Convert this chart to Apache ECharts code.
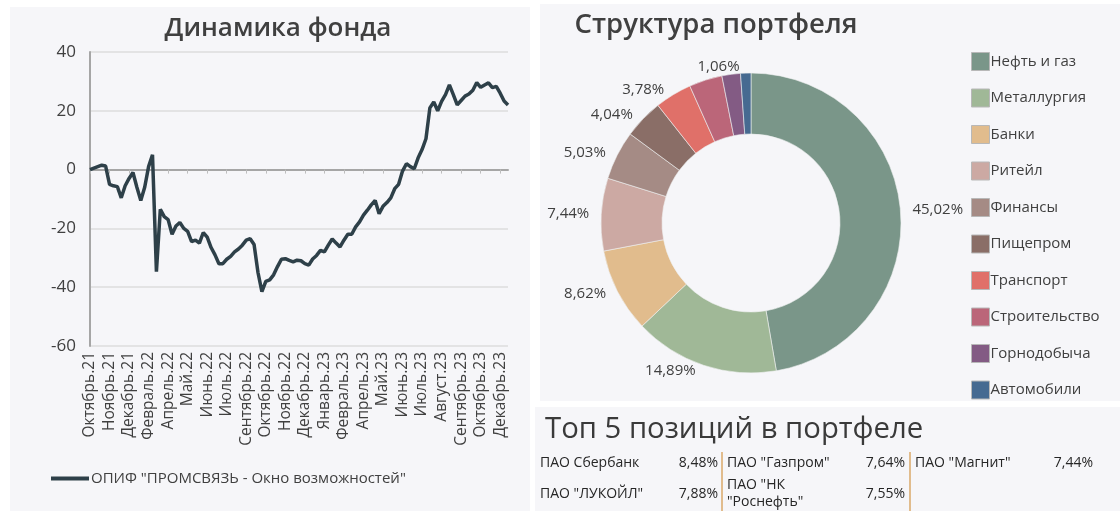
<!DOCTYPE html>
<html><head><meta charset="utf-8">
<script src="https://cdn.jsdelivr.net/npm/echarts@6/dist/echarts.min.js"></script>
<style>html,body{margin:0;padding:0;background:#fff}#c{width:1120px;height:511px}</style>
</head><body><div id="c"></div>
<script>
// ---- line chart data ----
const tickLabels = ['Октябрь.21','Ноябрь.21','Декабрь.21','Февраль.22','Апрель.22','Май.22','Июнь.22','Июль.22','Сентябрь.22','Октябрь.22','Ноябрь.22','Декабрь.22','Январь.23','Февраль.23','Апрель.23','Май.23','Июнь.23','Июль.23','Август.23','Сентябрь.23','Октябрь.23','Декабрь.23'];
const fundName = 'ОПИФ "ПРОМСВЯЗЬ - Окно возможностей"';
const fundValues = [
 0, 0.5, 1, 1.5, 1.2, -5, -5.5, -5.8, -9.6, -5.5,
 -3, -1, -6, -10.5, -6, 1, 5, -34.7, -13.5, -16,
 -17, -22, -19.2, -18, -20, -21, -24.5, -24, -25, -21.4,
 -23, -26.5, -29, -32, -32, -30.5, -29.5, -28, -27, -25.7,
 -24, -23.5, -25.5, -35, -41.5, -38, -37.5, -35.8, -33, -30.5,
 -30.3, -30.9, -31.4, -30.8, -31, -32, -32.5, -30.4, -29.2, -27.5,
 -28, -25.7, -23.6, -25, -26.3, -24, -22, -22, -19.5, -17.8,
 -15.5, -13.8, -12, -10.5, -15, -12.5, -11.2, -9.6, -6.5, -5,
 -0.5, 2, 1, 0.3, 4, 6.8, 10.5, 21, 23, 20,
 23.2, 25.5, 28.8, 25.5, 22, 23.5, 25, 25.7, 27, 29.6,
 28, 28.8, 29.5, 27.9, 28.3, 26, 23.3, 22
];
const labelStep = 5;
const yTicks = [-60, -40, -20, 0, 20, 40];

// ---- pie data ----
const sectors = ['Нефть и газ','Металлургия','Банки','Ритейл','Финансы','Пищепром','Транспорт','Строительство','Горнодобыча','Автомобили'];
const sectorValues = [45.02, 14.89, 8.62, 7.44, 5.03, 4.04, 3.78, 3.4, 1.9, 1.06];
const sectorLabelShown = [true, true, true, true, true, true, true, false, false, true];
const sectorColors = ['#7a9689','#a0b897','#e1bc8d','#cca9a3','#a58b85','#8a6e67','#e07069','#bb6679','#835b84','#466a91'];

// ---- top positions ----
const topNames = ['ПАО Сбербанк','ПАО "ЛУКОЙЛ"','ПАО "Газпром"','ПАО "НК\n"Роснефть"','ПАО "Магнит"'];
const topValues = [8.48, 7.88, 7.64, 7.55, 7.44];

const FONT = '"Open Sans", sans-serif';
const TXT = '#404040';
const fmt = v => v.toFixed(2).replace('.', ',') + '%';

const chart = echarts.init(document.getElementById('c'), null, {renderer: 'canvas'});

const graphics = [
  {type:'rect', z:-100, shape:{x:10,y:7,width:520,height:504}, style:{fill:'#f6f6f9'}},
  {type:'rect', z:-100, shape:{x:540,y:4,width:580,height:397}, style:{fill:'#f6f6f9'}},
  {type:'rect', z:-100, shape:{x:535,y:407,width:585,height:104}, style:{fill:'#f6f6f9'}},
  {type:'text', style:{text:'Динамика фонда', x:278, y:29, textAlign:'center', textVerticalAlign:'middle', font:'600 26px '+FONT, fill:TXT}},
  {type:'text', style:{text:'Структура портфеля', x:716, y:25, textAlign:'center', textVerticalAlign:'middle', font:'600 27.5px '+FONT, fill:TXT}},
  {type:'text', style:{text:'Топ 5 позиций в портфеле', x:545, y:430, textAlign:'left', textVerticalAlign:'middle', font:'500 29.3px '+FONT, fill:'#3a3a3a'}},
  {type:'line', shape:{x1:722,y1:452,x2:722,y2:511}, style:{stroke:'#e1bc8d', lineWidth:2}},
  {type:'line', shape:{x1:910,y1:452,x2:910,y2:511}, style:{stroke:'#e1bc8d', lineWidth:2}}
];
const colNameX = [540, 727, 915];
const colValX = [718, 905, 1093];
const rowY = [463, 494];
topNames.forEach((n, i) => {
  const col = Math.floor(i / 2), row = i % 2;
  graphics.push({type:'text', style:{text:n, x:colNameX[col], y:rowY[row], textAlign:'left', textVerticalAlign:'middle', font:'14px '+FONT, fill:'#262626', lineHeight:17}});
  graphics.push({type:'text', style:{text:fmt(topValues[i]), x:colValX[col], y:rowY[row], textAlign:'right', textVerticalAlign:'middle', font:'14px '+FONT, fill:'#262626'}});
});

chart.setOption({
  backgroundColor:'#ffffff',
  animation:false,
  textStyle:{fontFamily:FONT},
  graphic: graphics,
  legend:[
    {data:[fundName], left:46, top:466, icon:'rect', itemWidth:38, itemHeight:4, itemGap:2,
     textStyle:{fontSize:15, color:TXT, fontFamily:FONT, padding:[0,0,0,-3]}},
    {data:sectors, orient:'vertical', left:966, top:47, icon:'rect', itemWidth:18, itemHeight:18, itemGap:17.5,
     itemStyle:{borderColor:'#b8b8b8', borderWidth:1},
     textStyle:{fontSize:15, color:TXT, fontFamily:FONT, padding:[0,0,0,-4]}}
  ],
  grid:{left:90, right:612, top:52, bottom:165, containLabel:false},
  xAxis:{
    type:'category', boundaryGap:false,
    data: fundValues.map((_, i) => i),
    axisLine:{lineStyle:{color:'#a6a6a6', width:2}},
    axisTick:{show:true, interval:labelStep-1, length:4, lineStyle:{color:'#bdbdbd'}},
    axisLabel:{interval:labelStep-1, rotate:90, fontSize:15.5, color:TXT, margin:6,
      formatter:(v, i) => (i % labelStep === 0 ? (tickLabels[i / labelStep] || '') : '')},
    splitLine:{show:false}
  },
  yAxis:{
    type:'value', min:yTicks[0], max:yTicks[yTicks.length-1], interval:20,
    axisLine:{show:true, lineStyle:{color:'#a6a6a6', width:2}},
    axisTick:{show:false},
    axisLabel:{fontSize:17, color:TXT, margin:14},
    splitLine:{lineStyle:{color:'#dcdcdc', width:1.5}}
  },
  series:[
    {name:fundName, type:'line', data:fundValues, symbol:'none', smooth:false,
     lineStyle:{color:'#2e4049', width:3.5}, itemStyle:{color:'#2e4049'}},
    {type:'pie', center:[751,223], radius:[89,150], startAngle:90, clockwise:true,
     avoidLabelOverlap:false,
     itemStyle:{borderColor:'#eef0f0', borderWidth:0.6},
     label:{position:'outside', fontSize:15, color:TXT, fontFamily:FONT, formatter:p => fmt(p.value)},
     labelLine:{show:false, length:6, length2:1},
     emphasis:{disabled:true},
     data: sectors.map((s, i) => ({name:s, value:sectorValues[i], itemStyle:{color:sectorColors[i]}, label:{show:sectorLabelShown[i]}}))
    }
  ]
});
</script></body></html>
